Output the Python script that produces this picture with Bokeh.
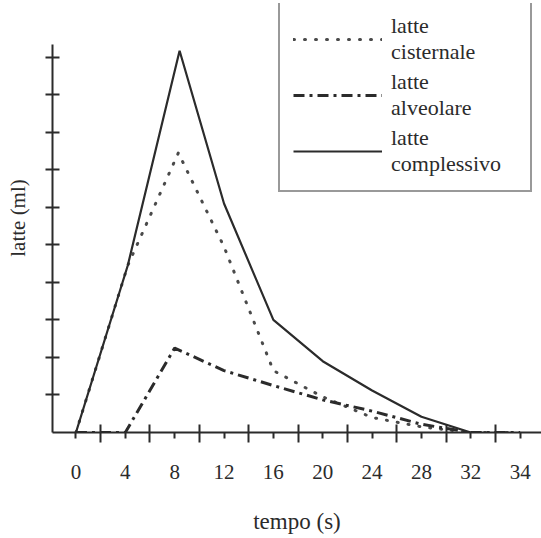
from bokeh.plotting import figure
from bokeh.models import FixedTicker, Range1d, Legend, LegendItem
from bokeh.embed import file_html
from bokeh.resources import INLINE

# --- data ---
t_cist = [0, 4.2, 8.3, 12, 16, 20, 24, 28, 32, 35]
v_cist = [0, 4.45, 7.45, 4.95, 1.65, 0.95, 0.4, 0.15, 0, 0]

t_alv = [0, 4, 8, 12, 16, 20, 24, 28, 32, 36]
v_alv = [0, 0, 2.25, 1.65, 1.25, 0.87, 0.57, 0.22, 0, 0]

t_tot = [0, 4.2, 8.4, 12, 16, 20, 24, 28, 32]
v_tot = [0, 4.45, 10.17, 6.1, 3.0, 1.9, 1.12, 0.42, 0]

x_ticks = [0, 4, 8, 12, 16, 20, 24, 28, 32, 36]
x_tick_labels = ["0", "4", "8", "12", "16", "20", "24", "28", "32", "34"]
x_minor_ticks = [2, 6, 10, 14, 18, 22, 26, 30, 34]
y_ticks = [1, 2, 3, 4, 5, 6, 7, 8, 9, 10]

series_labels = ["latte\ncisternale", "latte\nalveolare", "latte\ncomplessivo"]

FONT = "Liberation Serif"
INK = "#2b2b2b"

p = figure(width=541, height=538, output_backend="svg", toolbar_location=None,
           x_range=Range1d(-1.9, 37.73), y_range=Range1d(0, 11.43),
           min_border_left=52, min_border_right=0, min_border_top=3,
           min_border_bottom=106)
p.outline_line_color = None
p.grid.visible = False
p.background_fill_color = "white"
p.border_fill_color = "white"

r_cist = p.line(t_cist, v_cist, line_color="#4a4a4a", line_width=3,
                line_dash="1 10", line_cap="round")
r_alv = p.line(t_alv, v_alv, line_color=INK, line_width=3,
               line_dash="11 5 3 5")
r_tot = p.line(t_tot, v_tot, line_color=INK, line_width=2.2)

# x axis
xa = p.xaxis[0]
xa.ticker = FixedTicker(ticks=x_ticks, minor_ticks=x_minor_ticks)
xa.major_label_overrides = {t: s for t, s in zip(x_ticks, x_tick_labels)}
xa.axis_line_color = INK
xa.axis_line_width = 2
xa.major_tick_line_color = INK
xa.major_tick_line_width = 2
xa.major_tick_in = 0
xa.major_tick_out = 6
xa.minor_tick_line_color = INK
xa.minor_tick_line_width = 2
xa.minor_tick_in = 8
xa.minor_tick_out = 10
xa.major_label_standoff = 22
xa.major_label_text_font = FONT
xa.major_label_text_font_size = "21px"
xa.major_label_text_color = INK
xa.axis_label = "tempo (s)"
xa.axis_label_text_font = FONT
xa.axis_label_text_font_size = "23px"
xa.axis_label_text_font_style = "normal"
xa.axis_label_text_color = INK
xa.axis_label_standoff = 27

# y axis (line stops a little above the top tick)
ya = p.yaxis[0]
ya.bounds = (0, 10.33)
ya.ticker = FixedTicker(ticks=y_ticks, minor_ticks=[])
ya.major_label_overrides = {t: "" for t in y_ticks}
ya.axis_line_color = INK
ya.axis_line_width = 2
ya.major_tick_line_color = INK
ya.major_tick_line_width = 2
ya.major_tick_in = 7
ya.major_tick_out = 7
ya.major_label_standoff = 0
ya.axis_label = "latte (ml)"
ya.axis_label_text_font = FONT
ya.axis_label_text_font_size = "21px"
ya.axis_label_text_font_style = "normal"
ya.axis_label_text_color = INK
ya.axis_label_standoff = 16

legend = Legend(
    items=[LegendItem(label=series_labels[0], renderers=[r_cist]),
           LegendItem(label=series_labels[1], renderers=[r_alv]),
           LegendItem(label=series_labels[2], renderers=[r_tot])],
    location=(226, 240),
    glyph_width=89, glyph_height=20, label_standoff=9, label_width=126,
    padding=13, spacing=4, margin=0,
    border_line_color="#333333", border_line_width=2,
    background_fill_color="white", background_fill_alpha=1,
    label_text_font=FONT, label_text_font_size="22px",
    label_text_line_height=1.0, label_text_color=INK,
)
p.add_layout(legend)

open("out.html", "w").write(file_html(p, INLINE))
